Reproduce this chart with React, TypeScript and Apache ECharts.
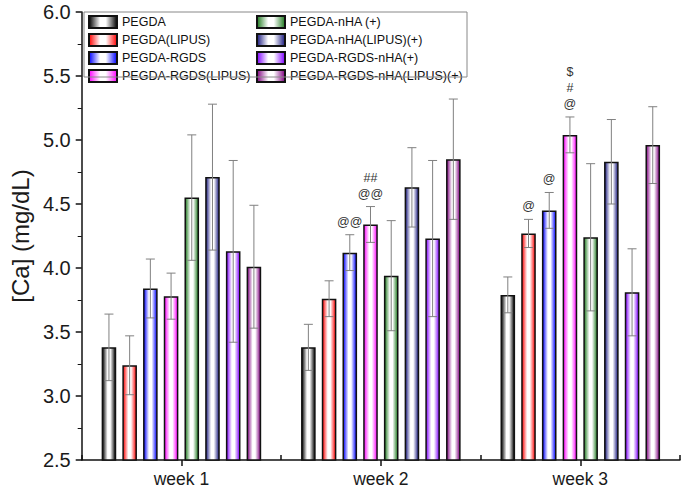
import React, { useEffect, useRef } from "react";
import * as echarts from "echarts";

const categories = ["week 1", "week 2", "week 3"];
const seriesNames = [
  "PEGDA",
  "PEGDA(LIPUS)",
  "PEGDA-RGDS",
  "PEGDA-RGDS(LIPUS)",
  "PEGDA-nHA (+)",
  "PEGDA-nHA(LIPUS)(+)",
  "PEGDA-RGDS-nHA(+)",
  "PEGDA-RGDS-nHA(LIPUS)(+)",
];
const seriesColors = ["#000000", "#ff0000", "#0000ff", "#ff00ff", "#1e7a1e", "#1a1a80", "#8000ff", "#800080"];

const pegda = [3.38, 3.38, 3.79];
const pegdaLipus = [3.24, 3.76, 4.27];
const pegdaRgds = [3.84, 4.12, 4.45];
const pegdaRgdsLipus = [3.78, 4.34, 5.04];
const pegdaNha = [4.55, 3.94, 4.24];
const pegdaNhaLipus = [4.71, 4.63, 4.83];
const pegdaRgdsNha = [4.13, 4.23, 3.81];
const pegdaRgdsNhaLipus = [4.01, 4.85, 4.96];
const seriesValues = [pegda, pegdaLipus, pegdaRgds, pegdaRgdsLipus, pegdaNha, pegdaNhaLipus, pegdaRgdsNha, pegdaRgdsNhaLipus];

const pegdaErr = [0.26, 0.18, 0.14];
const pegdaLipusErr = [0.23, 0.14, 0.11];
const pegdaRgdsErr = [0.23, 0.14, 0.14];
const pegdaRgdsLipusErr = [0.18, 0.14, 0.14];
const pegdaNhaErr = [0.49, 0.43, 0.575];
const pegdaNhaLipusErr = [0.57, 0.31, 0.33];
const pegdaRgdsNhaErr = [0.71, 0.61, 0.34];
const pegdaRgdsNhaLipusErr = [0.48, 0.47, 0.3];
const seriesErrors = [pegdaErr, pegdaLipusErr, pegdaRgdsErr, pegdaRgdsLipusErr, pegdaNhaErr, pegdaNhaLipusErr, pegdaRgdsNhaErr, pegdaRgdsNhaLipusErr];

// [week index, series index, marks from bottom to top]
const annotations: [number, number, string[]][] = [
  [1, 2, ["@@"]],
  [1, 3, ["@@", "##"]],
  [2, 1, ["@"]],
  [2, 2, ["@"]],
  [2, 3, ["@", "#", "$"]],
];

const yRange = [2.5, 6.0];

const BAR_CAT_GAP = 0.2;
const BAR_GAP = 0.42;
const FONT = "'Liberation Sans', Arial, sans-serif";

function gradient(c: string) {
  return {
    type: "linear",
    x: 0,
    y: 0,
    x2: 1,
    y2: 0,
    colorStops: [
      { offset: 0, color: c },
      { offset: 0.4, color: "#ffffff" },
      { offset: 0.6, color: "#ffffff" },
      { offset: 1, color: c },
    ],
  };
}

export default function App() {
  const ref = useRef<HTMLDivElement>(null);
  useEffect(() => {
    if (!ref.current) return;
    const chart = echarts.init(ref.current, null, { renderer: "svg" });
    const n = seriesNames.length;

    const errData: number[][] = [];
    seriesValues.forEach((vals, g) => {
      vals.forEach((v, w) => errData.push([w, g, v, seriesErrors[g][w]]));
    });
    const annData: any[] = annotations.map(([w, g, marks]) => [
      w,
      g,
      seriesValues[g][w] + seriesErrors[g][w],
      marks.join("\n"),
    ]);

    const offsetFor = (api: any, g: number) => {
      const band = api.size([1, 0])[0];
      const w = (band * (1 - BAR_CAT_GAP)) / (n + (n - 1) * BAR_GAP);
      const pitch = w * (1 + BAR_GAP);
      return (g - (n - 1) / 2) * pitch;
    };

    const barSeries = seriesNames.map((name, g) => ({
      type: "bar",
      name,
      data: seriesValues[g],
      barGap: BAR_GAP * 100 + "%",
      barCategoryGap: BAR_CAT_GAP * 100 + "%",
      itemStyle: {
        color: gradient(seriesColors[g]),
        borderColor: "#111",
        borderWidth: 1.5,
      },
      z: 2,
    }));

    const legendBase = {
      orient: "vertical",
      top: 15,
      padding: 0,
      itemWidth: 28,
      itemHeight: 12,
      itemGap: 4,
      icon: "rect",
      textStyle: { fontSize: 12.5, color: "#111", fontFamily: FONT },
    };

    const option: any = {
      animation: false,
      textStyle: { fontFamily: FONT },
      grid: { left: 79, right: 5, top: 12, bottom: 35 },
      legend: [
        { ...legendBase, data: seriesNames.slice(0, 4), left: 88 },
        { ...legendBase, data: seriesNames.slice(4), left: 256 },
      ],
      graphic: [
        {
          type: "rect",
          shape: { x: 84, y: 12, width: 383, height: 65 },
          style: { fill: "none", stroke: "#888", lineWidth: 1 },
          z: 100,
        },
      ],
      xAxis: [
        {
          type: "category",
          data: categories,
          position: "bottom",
          axisLine: { lineStyle: { color: "#111", width: 1.5 } },
          axisTick: { show: true, inside: true, length: 5, alignWithLabel: false, lineStyle: { color: "#111", width: 1.5 } },
          axisLabel: { fontSize: 17.5, color: "#1a1a1a", margin: 10, fontFamily: FONT },
        },
        {
          type: "category",
          data: categories,
          position: "bottom",
          axisLine: { show: false },
          axisTick: { show: true, inside: false, length: 6, alignWithLabel: true, lineStyle: { color: "#111", width: 1.5 } },
          axisLabel: { show: false },
        },
      ],
      yAxis: {
        type: "value",
        min: yRange[0],
        max: yRange[1],
        interval: 0.5,
        name: "[Ca] (mg/dL)",
        nameLocation: "middle",
        nameGap: 46,
        nameTextStyle: { fontSize: 24, color: "#1a1a1a", fontFamily: FONT },
        axisLine: { show: true, lineStyle: { color: "#111", width: 1.5 } },
        axisTick: { show: true, length: 6, lineStyle: { color: "#111", width: 1.5 } },
        minorTick: { show: true, splitNumber: 2, length: 4, lineStyle: { color: "#111", width: 1 } },
        splitLine: { show: false },
        axisLabel: {
          fontSize: 20,
          color: "#1a1a1a",
          margin: 11,
          fontFamily: FONT,
          formatter: (v: number) => v.toFixed(1),
        },
      },
      series: [
        ...barSeries,
        {
          type: "custom",
          name: "errors",
          data: errData,
          encode: { x: 0, y: 2 },
          z: 5,
          silent: true,
          renderItem: (params: any, api: any) => {
            const w = api.value(0);
            const g = api.value(1);
            const v = api.value(2);
            const e = api.value(3);
            const off = offsetFor(api, g);
            const top = api.coord([w, v + e]);
            const bot = api.coord([w, v - e]);
            const x = top[0] + off;
            const cap = 4.5;
            const style = { stroke: "#808080", lineWidth: 1 };
            return {
              type: "group",
              children: [
                { type: "line", shape: { x1: x, y1: top[1], x2: x, y2: bot[1] }, style },
                { type: "line", shape: { x1: x - cap, y1: top[1], x2: x + cap, y2: top[1] }, style },
                { type: "line", shape: { x1: x - cap, y1: bot[1], x2: x + cap, y2: bot[1] }, style },
              ],
            };
          },
        },
        {
          type: "custom",
          name: "marks",
          data: annData,
          encode: { x: 0, y: 2 },
          z: 6,
          silent: true,
          renderItem: (params: any, api: any) => {
            const w = api.value(0);
            const g = api.value(1);
            const top = api.coord([w, api.value(2)]);
            const item = annData[params.dataIndex];
            const lines: string[] = String(item[3]).split("\n");
            const off = offsetFor(api, g);
            return {
              type: "group",
              children: lines.map((t, i) => ({
                type: "text",
                style: {
                  text: t,
                  x: top[0] + off,
                  y: top[1] - 13 - i * 16,
                  align: "center",
                  verticalAlign: "middle",
                  fontSize: 12.5,
                  fontFamily: FONT,
                  fill: "#333",
                },
              })),
            };
          },
        },
      ],
    };
    chart.setOption(option);
    return () => chart.dispose();
  }, []);
  return <div ref={ref} style={{ width: 685, height: 495, position: "absolute", left: 0, top: 0, background: "#fff" }} />;
}
